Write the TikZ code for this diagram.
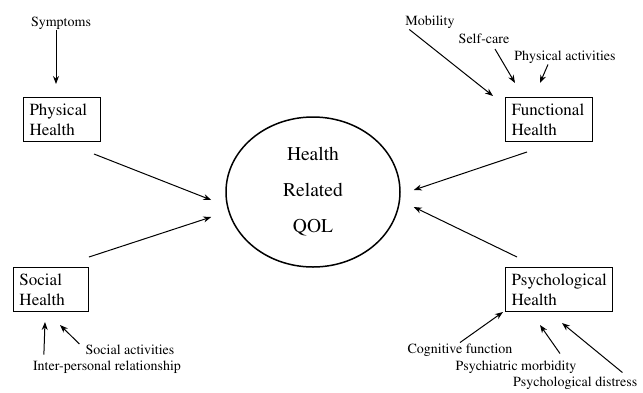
\documentclass[tikz,border=0pt]{standalone}
\usepackage[T1]{fontenc}
\usepackage{mathptmx}
\usetikzlibrary{positioning, arrows.meta, shapes.geometric}

\begin{document}
\begin{tikzpicture}[x=1pt, y=-1pt,
    box/.style={draw, line width=1pt, anchor=north west, align=left,
                inner xsep=6pt, minimum height=44pt,
                font=\fontsize{17}{20}\selectfont},
    lbl/.style={font=\fontsize{14}{16}\selectfont, inner sep=1pt},
    arr/.style={-{Stealth[length=8pt, width=6pt]}, line width=1pt},
]
    \useasboundingbox (0,0) rectangle (643,392);

    % Central node
    \node[draw, ellipse, line width=1.5pt, minimum width=174pt, minimum height=150pt,
          align=center, font=\fontsize{19.5}{36}\selectfont] (qol) at (313,192)
        {Health\\Related\\QOL};

    % Health domains
    \node[box, text width=65pt] (phys) at (23,97)  {Physical\\Health};
    \node[box, text width=75pt] (func) at (505,97) {Functional\\Health};
    \node[box, text width=63pt] (soc)  at (13,267) {Social\\Health};
    \node[box, text width=95pt] (psy)  at (505,267) {Psychological\\Health};

    \draw[arr] ([xshift=-7pt, yshift=-12pt]phys.south east) -- ([xshift=-14pt, yshift=-8pt]qol.west);
    \draw[arr] ([yshift=10pt]soc.north east) -- ([xshift=-14pt, yshift=-25pt]qol.west);
    \draw[arr] ([xshift=22pt, yshift=-10pt]func.south west) -- ([xshift=13pt, yshift=2pt]qol.east);
    \draw[arr] ([xshift=12pt, yshift=10pt]psy.north west) -- ([xshift=13pt, yshift=-15pt]qol.east);

    % Components
    \node[lbl] (sympt) at (61,23)   {Symptoms};
    \node[lbl] (mob)   at (430,22)  {Mobility};
    \node[lbl] (self)  at (484,39)  {Self-care};
    \node[lbl] (pact)  at (565,57)  {Physical activities};
    \node[lbl] (sact)  at (130,350) {Social activities};
    \node[lbl] (inter) at (107,367) {Inter-personal relationship};
    \node[lbl] (cogn)  at (460,350) {Cognitive function};
    \node[lbl] (morb)  at (516,367) {Psychiatric morbidity};
    \node[lbl, anchor=west] (dist) at (512,383) {Psychological distress};

    \coordinate (sympt-in) at (56,84);
    \coordinate (mob-in)   at (493,96);
    \coordinate (self-in)  at (515,83);
    \coordinate (pact-in)  at (540,83);
    \coordinate (sact-in)  at (60,325);
    \coordinate (inter-in) at (45,322);
    \coordinate (cogn-in)  at (503,312);
    \coordinate (morb-in)  at (540,325);
    \coordinate (dist-in)  at (562,323);

    \draw[arr] ([xshift=-5pt]sympt.south) -- (sympt-in);
    \draw[arr] ([xshift=5pt]mob.south west) -- (mob-in);
    \draw[arr] ([xshift=11pt, yshift=-4pt]self.south) -- (self-in);
    \draw[arr] ([xshift=-17pt]pact.south) -- (pact-in);
    \draw[arr] ([xshift=-5pt]sact.north west) -- (sact-in);
    \draw[arr] ([xshift=12pt, yshift=5pt]inter.north west) -- (inter-in);
    \draw[arr] (cogn.north) -- (cogn-in);
    \draw[arr] ([xshift=44pt, yshift=6pt]morb.north) -- (morb-in);
    \draw[arr] ([xshift=-16pt, yshift=3pt]dist.north east) -- (dist-in);
\end{tikzpicture}
\end{document}
